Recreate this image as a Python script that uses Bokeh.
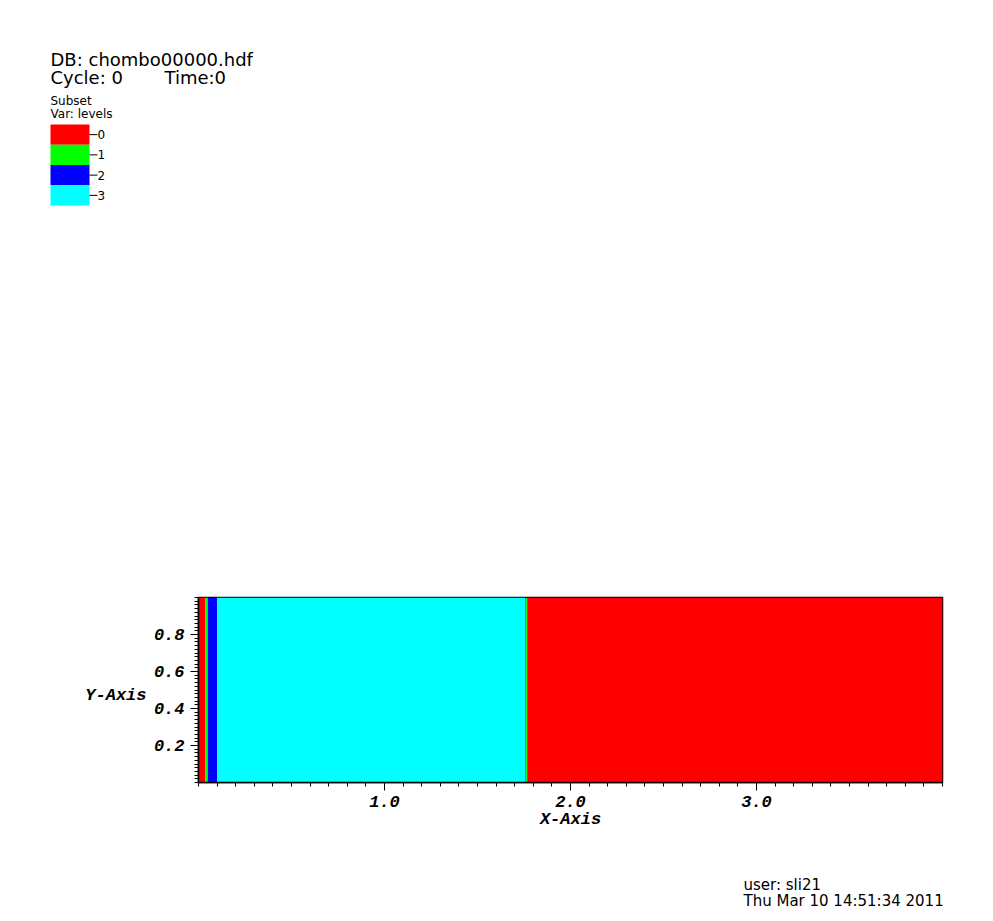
from bokeh.plotting import figure
from bokeh.layouts import column, row
from bokeh.models import Range1d, FixedTicker, NumeralTickFormatter, ColumnDataSource
from bokeh.core.properties import value
from bokeh.embed import file_html
from bokeh.resources import INLINE
import numpy as np

# ---- data ----
level_names = ["0", "1", "2", "3"]
level_colors = ["#ff0000", "#00ff00", "#0000ff", "#00ffff"]
patch_left = [0.0, 0.0375, 0.05, 0.1, 1.758, 1.762, 1.767]
patch_right = [0.0375, 0.05, 0.1, 1.758, 1.762, 1.767, 4.0]
patch_level = [0, 1, 2, 3, 2, 1, 0]
patch_bottom = [0.0] * 7
patch_top = [1.0] * 7
x_major = [1.0, 2.0, 3.0]
y_major = [0.2, 0.4, 0.6, 0.8]

W = 977
TOP_H = 560           # page rows 0..560 : header + legend
MID_Y0, MID_Y1 = 560, 860
BOT_Y1 = 910
LEFT_W = 150
# page-pixel geometry of the plot frame
FL, FR, FT, FB = 198, 942, 597, 782

SANS = "DejaVu Sans"
MONO = "Liberation Mono"


def blank(width, x0, y0, y1):
    f = figure(width=width, height=y1 - y0, output_backend="svg", toolbar_location=None,
               x_range=Range1d(x0, x0 + width), y_range=Range1d(y1, y0),
               x_axis_type=None, y_axis_type=None, min_border=0,
               background_fill_color="white", border_fill_color="white")
    f.outline_line_color = None
    f.xgrid.visible = False
    f.ygrid.visible = False
    return f


def txt(f, s, x, y, size, font=SANS, style="normal", align="left"):
    f.text(x=[x], y=[y], text=[s], text_font=value(font), text_font_size=value(f"{size}px"),
           text_font_style=style, text_baseline="middle", text_align=align, text_color="black")


# ---- header + legend ----
top = blank(W, 0, 0, TOP_H)
txt(top, "DB: chombo00000.hdf", 50, 59, 18)
txt(top, "Cycle: 0", 50, 77, 18)
txt(top, "Time:0", 164, 77, 18)
txt(top, "Subset", 50, 100, 12)
txt(top, "Var: levels", 50, 113, 12)
box_top, box_h = 124, 20.25
lt = [box_top + i * box_h for i in range(len(level_names))]
lb = [t + box_h for t in lt]
lc = [t + box_h / 2 for t in lt]
top.quad(left=[50] * 4, right=[89] * 4, top=lt, bottom=lb, fill_color=level_colors, line_color=None)
top.segment(x0=[89] * 4, x1=[97] * 4, y0=lc, y1=lc, line_color="black", line_width=1)
top.text(x=[97] * 4, y=lc, text=level_names, text_font=value(SANS), text_font_size=value("12px"),
         text_baseline="middle", text_align="left", text_color="black")

# ---- y axis title panel ----
left = blank(LEFT_W, 0, MID_Y0, MID_Y1)
txt(left, "Y-Axis", 146, 719, 17, font=MONO, style="bold italic", align="right")

# ---- main plot ----
p = figure(width=W - LEFT_W, height=MID_Y1 - MID_Y0, output_backend="svg", toolbar_location=None,
           x_range=Range1d(0, 4), y_range=Range1d(0, 1),
           min_border_left=FL - LEFT_W, min_border_right=W - FR,
           min_border_top=FT - MID_Y0, min_border_bottom=MID_Y1 - FB,
           background_fill_color="white", border_fill_color="white")

src = ColumnDataSource(dict(left=patch_left, right=patch_right, bottom=patch_bottom, top=patch_top,
                            color=[level_colors[l] for l in patch_level]))
p.quad(left="left", right="right", bottom="bottom", top="top", fill_color="color",
       line_color=None, source=src)

p.xgrid.visible = False
p.ygrid.visible = False
p.outline_line_color = "black"
p.outline_line_width = 1.5
p.outline_line_alpha = 1

p.xaxis.ticker = FixedTicker(ticks=x_major, minor_ticks=list(np.round(np.arange(0.0, 4.0001, 0.1), 3)))
p.yaxis.ticker = FixedTicker(ticks=y_major, minor_ticks=list(np.round(np.arange(0.0, 1.0001, 0.02), 3)))
for ax in (p.xaxis[0], p.yaxis[0]):
    ax.formatter = NumeralTickFormatter(format="0.0")
    ax.major_label_text_font = MONO
    ax.major_label_text_font_style = "bold italic"
    ax.major_label_text_font_size = "17px"
    ax.major_label_text_color = "black"
    ax.axis_line_color = "black"
    ax.axis_line_width = 1.5
    ax.major_tick_line_color = "black"
    ax.minor_tick_line_color = "black"
    ax.major_tick_in = 0
    ax.minor_tick_in = 0
    ax.major_tick_out = 8
    ax.minor_tick_out = 4
p.xaxis.major_label_standoff = 5
p.yaxis.major_label_standoff = 6
p.xaxis.axis_label = "X-Axis"
p.xaxis.axis_label_text_font = MONO
p.xaxis.axis_label_text_font_style = "bold italic"
p.xaxis.axis_label_text_font_size = "17px"
p.xaxis.axis_label_standoff = 0
p.xaxis.axis_label_text_color = "black"

# ---- footer ----
bottom = blank(W, 0, MID_Y1, BOT_Y1)
txt(bottom, "user: sli21", 743, 884, 15)
txt(bottom, "Thu Mar 10 14:51:34 2011", 743, 900, 15)

layout = column(top, row(left, p, spacing=0), bottom, spacing=0)
open("out.html", "w").write(file_html(layout, INLINE))
